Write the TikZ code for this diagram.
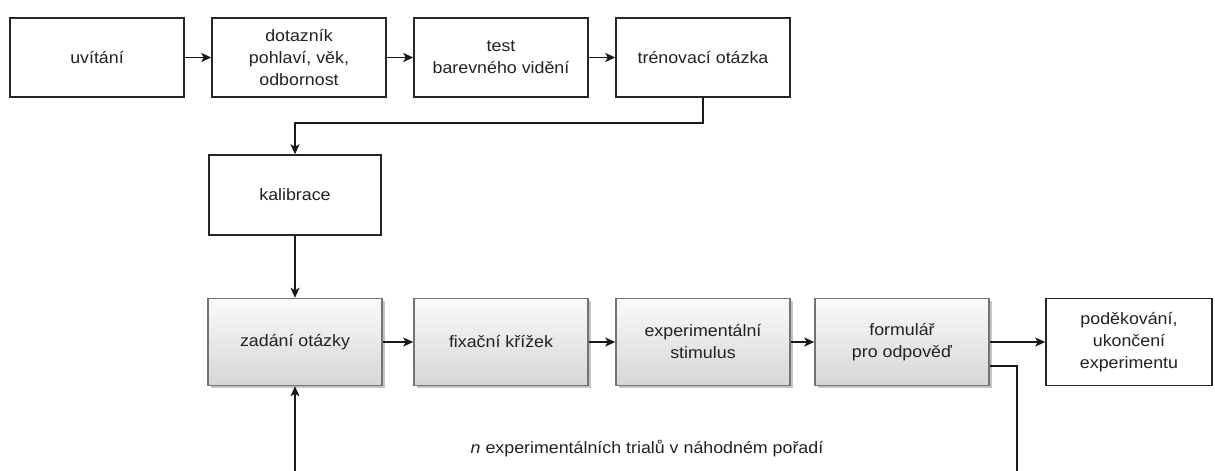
\documentclass[tikz,border=0pt]{standalone}
\usepackage{fontspec}
\setmainfont{Liberation Sans}[FakeStretch=1.08]
\usetikzlibrary{arrows.meta,shadows}
\definecolor{txt}{HTML}{222222}
\begin{document}
\begin{tikzpicture}[x=1pt,y=-1pt,
  box/.style={draw=black!85, line width=1.5pt, minimum width=174pt, minimum height=79pt,
    inner sep=0pt, align=center, font=\fontsize{16.5}{22}\selectfont, text=txt, fill=white},
  gbox/.style={box, draw=black!55, top color=black!2, bottom color=black!16,
    minimum height=87pt,
    drop shadow={shadow xshift=2.5pt,shadow yshift=-2.5pt,fill=black!45,opacity=0.5}},
  arr/.style={-{Stealth[length=10pt,width=9pt,inset=2.5pt]}, line width=1.5pt, draw=black!90},
  lnk/.style={line width=1.5pt, draw=black!90},
  lbl/.style={font=\fontsize{16.5}{22}\selectfont, text=txt, inner sep=0pt}]
\useasboundingbox (0,0) rectangle (1215,471);
% row 1
\node[box] (uv)   at (97,57.5)  {uvítání};
\node[box] (dot)  at (299,57.5) {dotazník\\pohlaví, věk,\\odbornost};
\node[box] (test) at (501,57.5) {test\\barevného vidění};
\node[box] (tren) at (703,57.5) {trénovací otázka};
% calibration
\node[box, minimum width=172pt, minimum height=80pt] (kal) at (295,195) {kalibrace};
% row 2
\node[gbox] (zad)  at (295,342) {zadání otázky};
\node[gbox] (fix)  at (501,342) {fixační křížek};
\node[gbox] (exp)  at (703,342) {experimentální\\stimulus};
\node[gbox] (form) at (902,342) {formulář\\pro odpověď};
\node[box, minimum width=166pt, minimum height=87pt] (pod) at (1129,342) {poděkování,\\ukončení\\experimentu};
% label
\node[lbl] (lab) at (647,449) {\textit{n} experimentálních trialů v náhodném pořadí};
% connectors
\draw[arr] (uv) -- (dot);
\draw[arr] (dot) -- (test);
\draw[arr] (test) -- (tren);
\draw[arr] (tren.south) -- ++(0,25) -| (kal.north);
\draw[arr] (kal) -- (zad);
\draw[arr] (zad) -- (fix);
\draw[arr] (fix) -- (exp);
\draw[arr] (exp) -- (form);
\draw[arr] (form) -- (pod);
\coordinate (lb) at (1017,471);
\coordinate (la) at (295,471);
\draw[lnk] ([yshift=-24pt]form.east) -| (lb);
\draw[arr] (la) -- (zad.south);
\end{tikzpicture}
\end{document}
